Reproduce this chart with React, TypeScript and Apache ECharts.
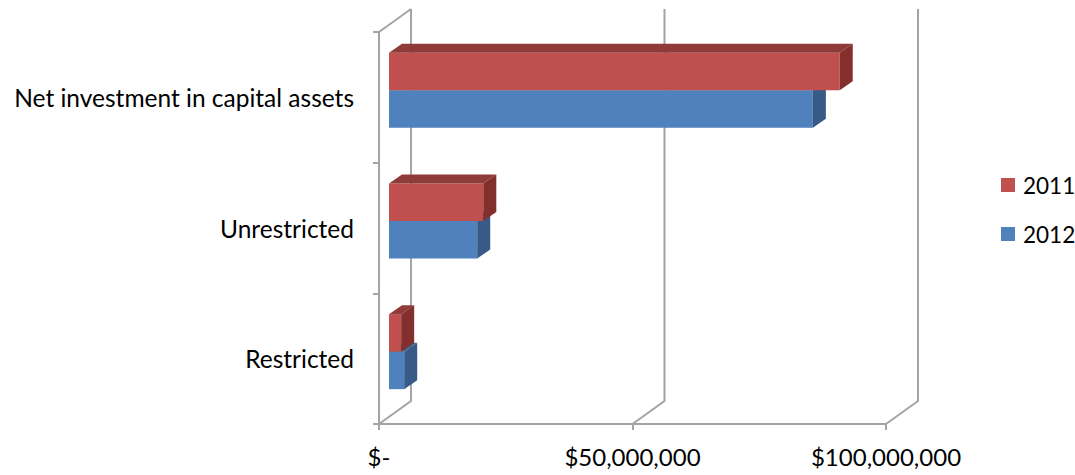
import React, { useEffect, useRef } from "react";
import * as echarts from "echarts";

const categories = ["Restricted", "Unrestricted", "Net investment in capital assets"];
const seriesNames = ["2011", "2012"];
const values2011 = [2400000, 18600000, 88900000];
const values2012 = [3000000, 17400000, 83600000];
const xTicks = [0, 50000000, 100000000];

const DEPTH_X = 32;
const DEPTH_Y = -23;
const BAR_OFF_X = 10;
const BAR_OFF_Y = -7;
const BAR_DX = 13;
const BAR_DY = -9;
const BAR_FRAC = 0.287;
const FRAME_COLOR = "#A4A4A4";
const FONT = "Lato";

const palette: Record<string, { front: string; top: string; side: string }> = {
  "2011": { front: "#C0504D", top: "#8F3B39", side: "#822F2D" },
  "2012": { front: "#4F81BD", top: "#3D6592", side: "#375A86" },
};

function makeBarRender(sIdx: number, c: { front: string; top: string; side: string }) {
  return (params: any, api: any) => {
    const val = api.value(0);
    const cat = api.value(1);
    const p0 = api.coord([0, cat]);
    const p1 = api.coord([val, cat]);
    const band = api.size([0, 1])[1];
    const h = band * BAR_FRAC;
    const yc = p0[1];
    const yTop = (sIdx === 0 ? yc - h : yc) + BAR_OFF_Y;
    const yBot = yTop + h;
    const x0 = p0[0] + BAR_OFF_X;
    const x1 = p1[0] + BAR_OFF_X;
    return {
      type: "group",
      children: [
        {
          type: "polygon",
          shape: { points: [[x0, yTop], [x1, yTop], [x1, yBot], [x0, yBot]] },
          style: { fill: c.front },
        },
        {
          type: "polygon",
          shape: {
            points: [
              [x0, yTop],
              [x1, yTop],
              [x1 + BAR_DX, yTop + BAR_DY],
              [x0 + BAR_DX, yTop + BAR_DY],
            ],
          },
          style: { fill: c.top },
        },
        {
          type: "polygon",
          shape: {
            points: [
              [x1, yTop],
              [x1 + BAR_DX, yTop + BAR_DY],
              [x1 + BAR_DX, yBot + BAR_DY],
              [x1, yBot],
            ],
          },
          style: { fill: c.side },
        },
      ],
    };
  };
}

function frameRender(params: any, api: any) {
  const cs = params.coordSys;
  const v = api.value(0);
  const x = api.coord([v, 0])[0];
  const top = cs.y;
  const bottom = cs.y + cs.height;
  const lineStyle = { stroke: FRAME_COLOR, lineWidth: 2, fill: null };
  const children: any[] = [
    {
      type: "polyline",
      shape: {
        points: [
          [x, bottom],
          [x + DEPTH_X, bottom + DEPTH_Y],
          [x + DEPTH_X, top + DEPTH_Y],
        ],
      },
      style: lineStyle,
    },
  ];
  if (v === 0) {
    children.push({
      type: "line",
      shape: { x1: x, y1: top, x2: x + DEPTH_X, y2: top + DEPTH_Y },
      style: lineStyle,
    });
  }
  return { type: "group", children };
}

export default function App() {
  const ref = useRef<HTMLDivElement>(null);
  useEffect(() => {
    if (!ref.current) return;
    const chart = echarts.init(ref.current, null, { renderer: "svg" });
    const valueLists = [values2011, values2012];
    chart.setOption({
      animation: false,
      backgroundColor: "#ffffff",
      textStyle: { fontFamily: FONT },
      grid: { left: 379, right: 189, top: 32, bottom: 51 },
      legend: {
        orient: "vertical",
        left: 996,
        top: 166,
        itemWidth: 14,
        itemHeight: 14,
        itemGap: 21,
        icon: "rect",
        textStyle: { fontFamily: FONT, fontSize: 22.5, color: "#000", lineHeight: 28, padding: [0, 0, 0, 3] },
        data: seriesNames.map((n) => ({ name: n, itemStyle: { color: palette[n].front } })),
      },
      xAxis: {
        type: "value",
        min: 0,
        max: 100000000,
        interval: 50000000,
        axisLine: { show: true, lineStyle: { color: FRAME_COLOR, width: 2 } },
        axisTick: { show: true, length: 6, lineStyle: { color: FRAME_COLOR, width: 2 } },
        splitLine: { show: false },
        axisLabel: {
          margin: 20,
          fontFamily: FONT,
          fontSize: 24,
          color: "#000",
          formatter: (v: number) => (v === 0 ? "$-" : "$" + v.toLocaleString("en-US")),
        },
      },
      yAxis: {
        type: "category",
        data: categories,
        axisLine: { show: true, lineStyle: { color: FRAME_COLOR, width: 2 } },
        axisTick: { show: true, length: 6, lineStyle: { color: FRAME_COLOR, width: 2 } },
        axisLabel: { margin: 25, fontFamily: FONT, fontSize: 24.5, color: "#000" },
      },
      series: [
        {
          type: "custom",
          name: "frame",
          silent: true,
          renderItem: frameRender,
          encode: { x: 0, y: 1 },
          data: xTicks.map((v) => [v, 0]),
          z: 1,
        },
        ...seriesNames.map((n, i) => ({
          type: "custom",
          name: n,
          renderItem: makeBarRender(i, palette[n]),
          itemStyle: { color: palette[n].front },
          encode: { x: 0, y: 1 },
          data: valueLists[i].map((v, k) => [v, k]),
          z: i === 0 ? 4 : 3,
        })),
      ],
    });
    return () => chart.dispose();
  }, []);
  return <div ref={ref} style={{ position: "fixed", left: 0, top: 0, width: 1075, height: 475 }} />;
}
